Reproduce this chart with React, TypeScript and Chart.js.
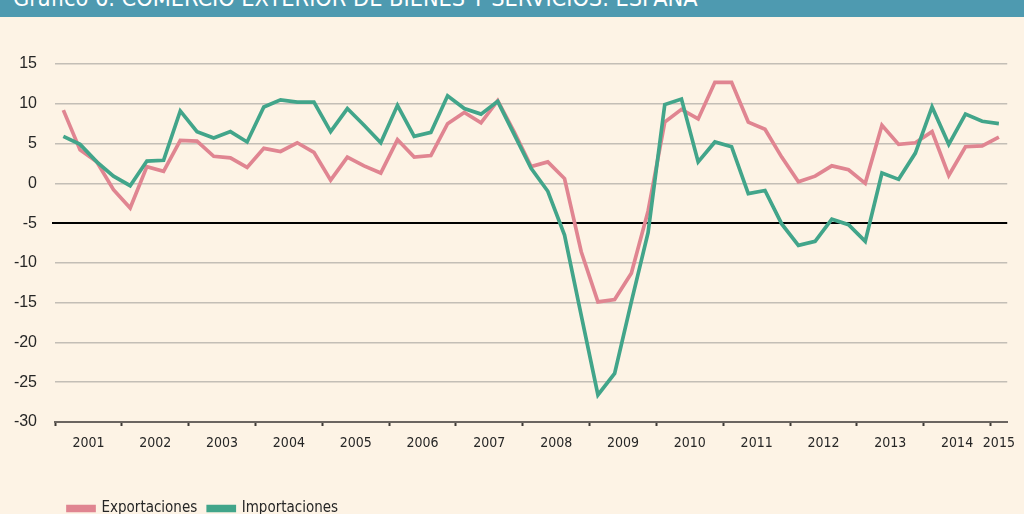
import React, { useEffect, useRef } from "react";
import { Chart, registerables } from "chart.js";

Chart.register(...registerables);

const title = "Gráfico 6.  COMERCIO EXTERIOR DE BIENES Y SERVICIOS. ESPAÑA";

const years = [
  "2001", "2002", "2003", "2004", "2005", "2006", "2007",
  "2008", "2009", "2010", "2011", "2012", "2013", "2014", "2015",
];

const quartersPerYear = 4;

const seriesNames = ["Exportaciones", "Importaciones"];

// Quarterly year-on-year rates, 2001 T1 .. 2015 T1
const exportaciones = [
  9.2, 4.2, 2.7, -0.8, -3.1, 2.1, 1.5, 5.4, 5.3, 3.4,
  3.2, 2.0, 4.4, 4.0, 5.1, 3.9, 0.4, 3.3, 2.2, 1.3,
  5.5, 3.3, 3.5, 7.5, 8.9, 7.6, 10.4, 6.4, 2.1, 2.7,
  0.6, -8.6, -14.9, -14.6, -11.3, -3.5, 7.7, 9.3, 8.1, 12.7,
  12.7, 7.7, 6.8, 3.3, 0.2, 0.9, 2.2, 1.7, 0.0, 7.3,
  4.9, 5.1, 6.5, 1.0, 4.6, 4.7, 5.8,
];

const importaciones = [
  5.9, 4.9, 2.7, 0.9, -0.3, 2.8, 2.9, 9.1, 6.5, 5.7,
  6.5, 5.2, 9.6, 10.5, 10.2, 10.2, 6.5, 9.4, 7.3, 5.1,
  9.8, 5.9, 6.4, 11.0, 9.4, 8.7, 10.3, 6.1, 1.9, -1.0,
  -6.5, -16.6, -26.6, -23.9, -14.9, -6.2, 9.9, 10.6, 2.7, 5.2,
  4.6, -1.3, -0.9, -5.1, -7.8, -7.3, -4.5, -5.2, -7.3, 1.3,
  0.5, 3.8, 9.6, 4.9, 8.7, 7.8, 7.5,
];

const yMin = -30;
const yMax = 15;
const yStep = 5;
const referenceLine = -5;

const COLORS = {
  bg: "#fdf3e5",
  header: "#4e9ab0",
  exp: "#e08591",
  imp: "#42a58a",
  grid: "#c3beb6",
  axis: "#6b6560",
  text: "#262626",
};

const NARROW = "'Liberation Sans Narrow', 'Arial Narrow', 'DejaVu Sans Condensed', sans-serif";
const REGULAR = "'Liberation Sans', Arial, Helvetica, sans-serif";

const quarterCount = exportaciones.length;
const yearStarts = years.map((_, k) => k * quartersPerYear);
const yearCenters = yearStarts.map((s) => (s + Math.min(s + quartersPerYear, quarterCount)) / 2);
const xTickValues = [...yearStarts, ...yearCenters].sort((a, b) => a - b);

const legendShift = {
  id: "legendShift",
  afterLayout(chart: any) {
    const l = chart.legend;
    if (l) {
      l.left += 57;
      l.right += 57;
    }
  },
};

function ChartView() {
  const ref = useRef<HTMLCanvasElement | null>(null);

  useEffect(() => {
    if (!ref.current) return;
    const chart = new Chart(ref.current, {
      type: "line",
      data: {
        datasets: [
          {
            label: seriesNames[0],
            data: exportaciones.map((v, i) => ({ x: i + 0.5, y: v })),
            borderColor: COLORS.exp,
            backgroundColor: COLORS.exp,
            borderWidth: 3.7,
            pointRadius: 0,
            tension: 0,
            order: 1,
          },
          {
            label: seriesNames[1],
            data: importaciones.map((v, i) => ({ x: i + 0.5, y: v })),
            borderColor: COLORS.imp,
            backgroundColor: COLORS.imp,
            borderWidth: 3.7,
            pointRadius: 0,
            tension: 0,
            order: 0,
          },
        ],
      },
      options: {
        animation: false,
        responsive: true,
        maintainAspectRatio: false,
        layout: { padding: { top: 64, right: 11, left: 0, bottom: 0 } },
        scales: {
          x: {
            type: "linear",
            min: 0,
            max: quarterCount,
            afterBuildTicks: (scale: any) => {
              scale.ticks = xTickValues.map((v) => ({ value: v }));
            },
            afterFit: (scale: any) => {
              scale.height = 68;
            },
            grid: {
              display: true,
              drawOnChartArea: false,
              drawTicks: true,
              tickLength: 4,
              tickWidth: 2,
              tickColor: (ctx: any) =>
                ctx.tick && yearStarts.includes(ctx.tick.value) ? "#3d3935" : "rgba(0,0,0,0)",
            },
            border: { display: true, color: COLORS.axis, width: 2 },
            ticks: {
              autoSkip: false,
              maxRotation: 0,
              minRotation: 0,
              padding: 9,
              color: COLORS.text,
              font: { family: NARROW, size: 14 },
              callback: (value: any) => {
                const k = yearCenters.indexOf(Number(value));
                return k >= 0 ? years[k] : "";
              },
            },
          },
          y: {
            min: yMin,
            max: yMax,
            afterFit: (scale: any) => {
              scale.width = 55;
            },
            border: { display: false },
            grid: {
              color: (ctx: any) => (ctx.tick && ctx.tick.value === referenceLine ? "#000000" : COLORS.grid),
              lineWidth: (ctx: any) => (ctx.tick && ctx.tick.value === referenceLine ? 2 : 1.5),
              drawTicks: true,
              tickLength: 3,
              tickColor: (ctx: any) =>
                ctx.tick && ctx.tick.value === referenceLine ? "#000000" : "rgba(0,0,0,0)",
            },
            ticks: {
              stepSize: yStep,
              padding: 15,
              color: COLORS.text,
              font: { family: REGULAR, size: 16 },
            },
          },
        },
        plugins: {
          tooltip: { enabled: false },
          title: { display: false },
          legend: {
            display: true,
            position: "bottom",
            align: "start",
            labels: {
              boxWidth: 26,
              boxHeight: 4,
              padding: 11,
              color: COLORS.text,
              font: { family: NARROW, size: 15 },
              sort: (a: any, b: any) => a.datasetIndex - b.datasetIndex,
            },
          },
        },
      },
      plugins: [legendShift],
    } as any);
    return () => chart.destroy();
  }, []);

  return <canvas ref={ref} />;
}

export default function App() {
  return (
    <div
      style={{
        position: "fixed",
        left: 0,
        top: 0,
        width: 1024,
        height: 514,
        overflow: "hidden",
        background: COLORS.bg,
      }}
    >
      <div style={{ position: "absolute", left: 0, top: 0, width: 1024, height: 526 }}>
        <ChartView />
      </div>
      <div
        style={{
          position: "absolute",
          left: 0,
          top: 0,
          width: 1024,
          height: 17,
          background: COLORS.header,
          overflow: "hidden",
        }}
      >
        <span
          style={{
            position: "absolute",
            left: 13,
            top: -14,
            fontFamily: NARROW,
            fontSize: 23.3,
            lineHeight: "23px",
            color: "#ffffff",
            whiteSpace: "nowrap",
          }}
        >
          {title}
        </span>
      </div>
    </div>
  );
}
